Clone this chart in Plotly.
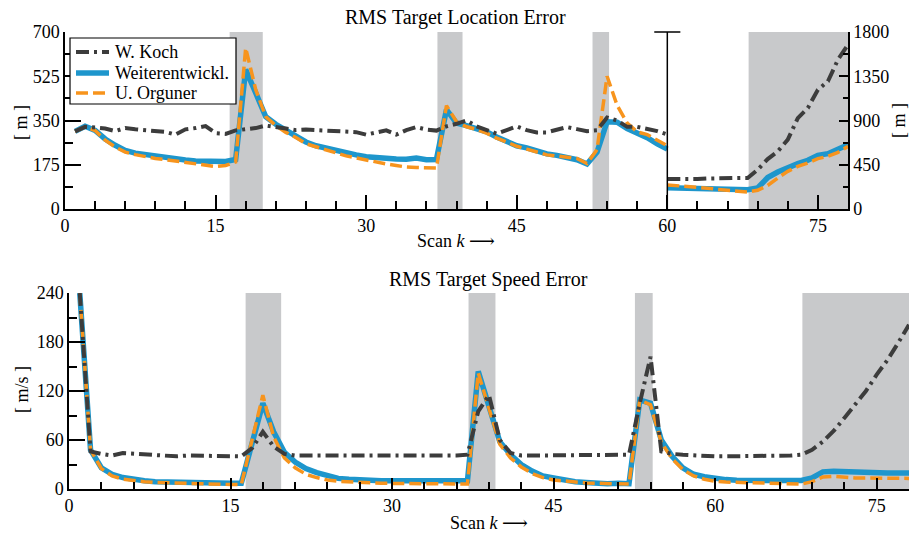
import plotly.graph_objects as go

# ---------------- data ----------------
k_top_left = list(range(1, 61))
k_top_right = list(range(60, 79))
k_bottom = list(range(1, 79))

koch_loc_left = [307, 325, 322, 318, 308, 320, 315, 312, 310, 305,
                 294, 315, 320, 328, 300, 297, 311, 316, 320, 330,
                 322, 318, 312, 314, 312, 310, 307, 304, 304, 294,
                 304, 311, 294, 312, 324, 314, 310, 327, 337, 350,
                 327, 314, 298, 312, 327, 312, 303, 303, 312, 324,
                 316, 308, 311, 362, 350, 325, 325, 318, 308, 295]
weiter_loc_left = [307, 327, 311, 277, 252, 232, 221, 215, 208, 203,
                   198, 194, 190, 190, 186, 188, 196, 551, 459, 365,
                   335, 310, 290, 265, 250, 240, 230, 220, 214, 207,
                   203, 200, 198, 197, 202, 195, 196, 393, 340, 330,
                   320, 305, 285, 268, 250, 242, 230, 218, 212, 206,
                   195, 178, 225, 345, 343, 318, 300, 282, 258, 237]
orguner_loc_left = [307, 325, 310, 272, 245, 225, 215, 207, 200, 195,
                    190, 185, 178, 172, 168, 172, 186, 637, 472, 365,
                    330, 303, 283, 258, 245, 232, 222, 210, 202, 192,
                    185, 178, 172, 166, 164, 163, 162, 409, 345, 325,
                    315, 300, 280, 265, 248, 237, 225, 214, 210, 206,
                    200, 180, 235, 525, 410, 340, 305, 294, 272, 250]

koch_loc_right = [305, 302, 300, 305, 310, 315, 312, 315, 315, 400,
                  508, 586, 705, 925, 1027, 1213, 1298, 1519, 1671]
weiter_loc_right = [215, 213, 212, 210, 208, 206, 204, 200, 195, 214,
                    320, 376, 424, 461, 495, 546, 563, 603, 654]
orguner_loc_right = [245, 238, 230, 222, 212, 200, 190, 180, 172, 190,
                     240, 315, 383, 434, 468, 512, 536, 576, 637]

koch_speed = [240, 46, 43, 41, 44, 43, 42, 41, 41, 40,
              41, 41, 40, 40, 40, 40, 50, 70, 52, 43,
              41, 41, 41, 41, 41, 40, 41, 41, 40, 41,
              41, 41, 40, 41, 41, 41, 42, 95, 115, 60,
              44, 41, 41, 41, 41, 41, 41, 41, 41, 41,
              42, 42, 105, 162, 46, 43, 42, 41, 41, 40,
              40, 40, 40, 40, 41, 41, 41, 42, 48, 58,
              71, 87, 103, 120, 140, 158, 179, 201]
weiter_speed = [240, 48, 26, 18, 14, 11.5, 10, 9, 8.5, 8,
                7.5, 7.2, 7, 7, 7, 7, 56, 105, 70, 45,
                33, 25, 20, 16, 13, 12, 11, 10.5, 10, 10,
                10, 10, 10, 10, 11, 10, 10, 144, 100, 58,
                42, 30, 22, 16, 13.5, 11, 9, 8, 7, 6.5,
                7, 6.5, 109, 105, 60, 40, 26, 18, 15, 12.7,
                11.5, 10.6, 10.5, 10.5, 10.5, 10.8, 10.5, 10.5, 13.5, 21,
                21.6, 21, 20, 19.5, 19.6, 19.5, 19.6, 19.6]
orguner_speed = [240, 48, 25, 16, 12, 10, 9, 8, 7.5, 7,
                 6.5, 6, 6, 5.5, 5.5, 5.5, 60, 115, 64, 38,
                 26, 18, 14, 11, 9.5, 8.5, 8, 7.5, 7, 7,
                 6.5, 6.5, 6.5, 6.5, 6.5, 6, 6, 142, 98, 55,
                 38, 27, 19, 14, 11, 9.5, 8.5, 7.5, 7, 6.5,
                 6, 6, 109, 103, 57, 37, 24, 16, 12, 9.4,
                 8.5, 8, 7.5, 7.5, 7.3, 7, 6.5, 6, 9, 14.7,
                 15.5, 14, 13.5, 13.5, 13.5, 13.5, 13, 13]

series_names = ["W. Koch", "Weiterentwickl.", "U. Orguner"]

shade_start = [16.4, 37.1, 52.55, 68.1]
shade_end = [19.7, 39.6, 54.2, 78]

x_ticks = [0, 15, 30, 45, 60, 75]

# ---------------- style ----------------
W, H = 909, 533
FONT = "Liberation Serif"
C_KOCH = "#3c3c3c"
C_BLUE = "#1e96cc"
C_ORANGE = "#f7941d"
C_SHADE = "#c8c9cb"
DASH_KOCH = "13px,5px,3px,5px"
DASH_OR = "12px,5px"
W_KOCH, W_BLUE, W_OR = 4, 5.5, 3.5


def px(x):
    return x / W


def py(y):
    return 1 - y / H


fig = go.Figure()


def add_series(x, y, xa, ya, color, width, dash, name):
    fig.add_trace(go.Scatter(
        x=x, y=y, xaxis=xa, yaxis=ya, mode="lines", name=name,
        line=dict(color=color, width=width, dash=dash),
        showlegend=False, hoverinfo="skip"))


K, B, O = series_names
# top chart, left part
add_series(k_top_left, weiter_loc_left, "x", "y", C_BLUE, W_BLUE, "solid", B)
add_series(k_top_left, orguner_loc_left, "x", "y", C_ORANGE, W_OR, DASH_OR, O)
add_series(k_top_left, koch_loc_left, "x", "y", C_KOCH, W_KOCH, DASH_KOCH, K)
# top chart, right part
add_series(k_top_right, weiter_loc_right, "x", "y2", C_BLUE, W_BLUE, "solid", B)
add_series(k_top_right, orguner_loc_right, "x", "y2", C_ORANGE, W_OR, DASH_OR, O)
add_series(k_top_right, koch_loc_right, "x", "y2", C_KOCH, W_KOCH, DASH_KOCH, K)
# bottom chart
add_series(k_bottom, weiter_speed, "x2", "y3", C_BLUE, W_BLUE, "solid", B)
add_series(k_bottom, orguner_speed, "x2", "y3", C_ORANGE, W_OR, DASH_OR, O)
add_series(k_bottom, koch_speed, "x2", "y3", C_KOCH, W_KOCH, DASH_KOCH, K)

tickfont = dict(family=FONT, size=18, color="black")
common = dict(showgrid=False, zeroline=False, showline=True, linecolor="black",
              linewidth=1.5, tickcolor="black", tickwidth=1.5, tickfont=tickfont,
              ticks="inside", automargin=False)
overlay_common = dict(ticks="outside", ticklen=6, tickwidth=1.5,
                      tickcolor="black", showticklabels=False, showline=False,
                      showgrid=False, zeroline=False, automargin=False,
                      tickmode="array", tickvals=x_ticks, range=[0, 78])

top_dom = [py(209), py(32)]
bot_dom = [py(489), py(293)]

fig.update_layout(
    width=W, height=H, margin=dict(l=0, r=0, t=0, b=0, autoexpand=False),
    paper_bgcolor="white", plot_bgcolor="rgba(0,0,0,0)",
    font=dict(family=FONT, size=18, color="black"),
    showlegend=False,
    xaxis=dict(domain=[px(65), px(848)], range=[0, 78], anchor="y",
               tickmode="array", tickvals=x_ticks, ticklen=14,
               minor=dict(dtick=3, tick0=0, ticks="inside", ticklen=8,
                          tickcolor="black", tickwidth=1.5),
               **common),
    xaxis3=dict(overlaying="x", anchor="y", **overlay_common),
    yaxis=dict(domain=top_dom, range=[0, 700], anchor="x", dtick=175, tick0=0,
               ticklen=16,
               minor=dict(dtick=87.5, tick0=0, ticks="inside", ticklen=8,
                          tickcolor="black", tickwidth=1.5),
               **common),
    yaxis2=dict(overlaying="y", side="right", anchor="x", range=[0, 1800],
                dtick=450, tick0=0, ticklen=9,
                minor=dict(dtick=225, tick0=0, ticks="inside", ticklen=5,
                           tickcolor="black", tickwidth=1.5),
                **common),
    xaxis2=dict(domain=[px(69), 1.0], range=[0, 78], anchor="y3",
                tickmode="array", tickvals=x_ticks, ticklen=11,
                minor=dict(dtick=3, tick0=0, ticks="inside", ticklen=7,
                           tickcolor="black", tickwidth=1.5),
                **common),
    xaxis4=dict(overlaying="x2", anchor="y3", **overlay_common),
    yaxis3=dict(domain=bot_dom, range=[0, 240], anchor="x2", dtick=60, tick0=0,
                ticklen=16,
                minor=dict(dtick=30, tick0=0, ticks="inside", ticklen=8,
                           tickcolor="black", tickwidth=1.5),
                **common),
)

shapes = []
for s, e in zip(shade_start, shade_end):
    shapes.append(dict(type="rect", xref="x", yref="y domain", x0=s, x1=e,
                       y0=0, y1=1, fillcolor=C_SHADE, line=dict(width=0),
                       layer="below"))
    shapes.append(dict(type="rect", xref="x2", yref="y3 domain", x0=s, x1=e,
                       y0=0, y1=1, fillcolor=C_SHADE, line=dict(width=0),
                       layer="below"))
# separator between the two parts of the location chart
shapes.append(dict(type="line", xref="x", yref="y domain", x0=60, x1=60,
                   y0=0, y1=1, line=dict(color="black", width=1.5)))
shapes.append(dict(type="line", xref="x", yref="y domain", x0=58.7, x1=61.3,
                   y0=1, y1=1, line=dict(color="black", width=1.5)))

# legend box (drawn to match the original's compact layout)
shapes.append(dict(type="rect", xref="paper", yref="paper",
                   x0=px(70), x1=px(236), y0=py(104), y1=py(38),
                   fillcolor="white", line=dict(color="black", width=1.2),
                   layer="above"))
legend_rows = [(K, C_KOCH, W_KOCH, DASH_KOCH, 52), (B, C_BLUE, W_BLUE, "solid", 73),
               (O, C_ORANGE, W_OR, DASH_OR, 93)]
for name, col, wd, ds, yy in legend_rows:
    shapes.append(dict(type="line", xref="paper", yref="paper",
                       x0=px(76), x1=px(109), y0=py(yy), y1=py(yy),
                       line=dict(color=col, width=wd, dash=ds), layer="above"))
fig.update_layout(shapes=shapes)

ann_font = dict(family=FONT, size=18, color="black")
title_font = dict(family=FONT, size=20, color="black")
scan_label = "Scan <i>k</i> <span style='font-family:DejaVu Serif'>⟶</span>"
annotations = [
    dict(text="RMS Target Location Error", x=px(456), y=py(17), font=title_font),
    dict(text="RMS Target Speed Error", x=px(489), y=py(279), font=title_font),
    dict(text=scan_label, x=px(456), y=py(240), font=ann_font),
    dict(text=scan_label, x=px(489), y=py(522), font=ann_font),
    dict(text="[ m ]", x=px(21), y=py(123), font=ann_font, textangle=-90),
    dict(text="[ m ]", x=px(899), y=py(121), font=ann_font, textangle=-90),
    dict(text="[ m/s ]", x=px(22), y=py(390), font=ann_font, textangle=-90),
]
for a in annotations:
    a.update(xanchor="center")
for name, col, wd, ds, yy in legend_rows:
    annotations.append(dict(text=name, x=px(113), y=py(yy), xanchor="left",
                            font=dict(family=FONT, size=18, color="black")))
for a in annotations:
    a.update(xref="paper", yref="paper", showarrow=False, yanchor="middle")
fig.update_layout(annotations=annotations)

fig.write_html("out.html")
